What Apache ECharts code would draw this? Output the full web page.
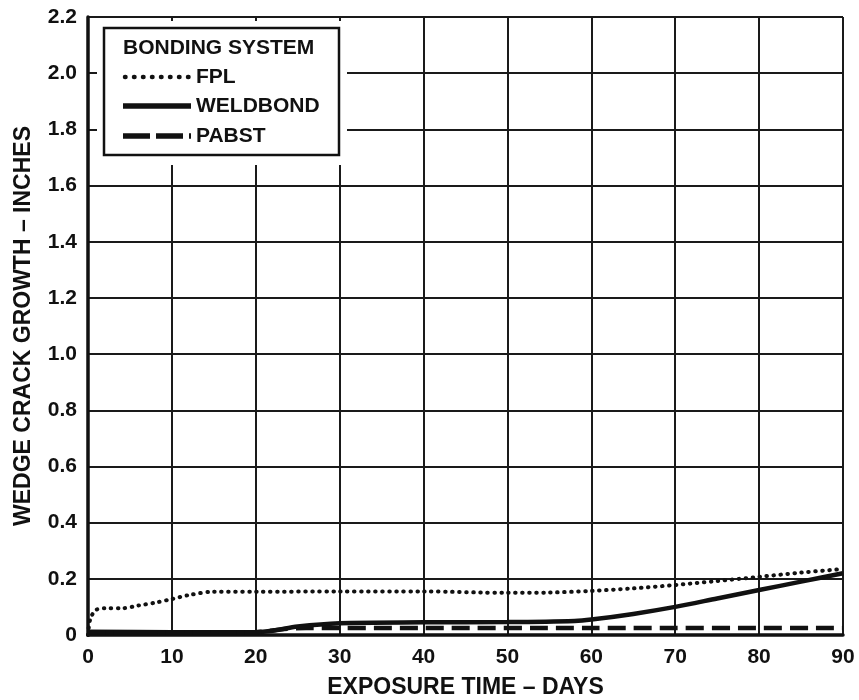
<!DOCTYPE html>
<html>
<head>
<meta charset="utf-8">
<script src="https://cdn.jsdelivr.net/npm/echarts@6/dist/echarts.min.js"></script>
<style>
html,body{margin:0;padding:0;background:#fff;}
#chart{width:859px;height:700px;}
</style>
</head>
<body>
<div id="chart"></div>
<script>
// Data
var fplDays   = [0, 0.3, 1, 2, 4, 6, 8, 10, 12, 15, 20, 30, 40, 50, 55, 60, 65, 70, 75, 80, 85, 90];
var fplValues = [0, 0.06, 0.09, 0.095, 0.095, 0.105, 0.115, 0.128, 0.142, 0.154, 0.154, 0.155, 0.155, 0.15, 0.151, 0.157, 0.166, 0.178, 0.192, 0.207, 0.222, 0.235];

var weldDays   = [0, 10, 20, 22, 25, 30, 40, 50, 58, 60, 65, 70, 75, 80, 85, 90];
var weldValues = [0.012, 0.01, 0.01, 0.015, 0.03, 0.042, 0.045, 0.046, 0.05, 0.055, 0.075, 0.1, 0.13, 0.16, 0.19, 0.22];

var pabstDays   = [0, 20, 23, 26, 40, 60, 90];
var pabstValues = [0.01, 0.01, 0.02, 0.025, 0.025, 0.025, 0.025];

var seriesNames = ['FPL', 'WELDBOND', 'PABST'];
var legendTitle = 'BONDING SYSTEM';
var xTitle = 'EXPOSURE TIME \u2013 DAYS';
var yTitle = 'WEDGE CRACK GROWTH \u2013 INCHES';

function pairs(xs, ys){ return xs.map(function(x,i){ return [x, ys[i]]; }); }

var FONT = '"Liberation Sans", Arial, Helvetica, sans-serif';
var INK = '#111';
var styles = [
  { color: INK, width: 4, type: [0.5, 6.5], cap: 'round' },
  { color: INK, width: 4.5, type: 'solid' },
  { color: INK, width: 4.5, type: [18, 8] }
];
var legendIconStyles = [
  { stroke: INK, lineWidth: 4.5, lineDash: [0.5, 8.5], lineCap: 'round' },
  { stroke: INK, lineWidth: 5.5 },
  { stroke: INK, lineWidth: 5.5, lineDash: [27, 6] }
];
var legendRowsY = [77, 106, 136];

var graphics = [
  { type: 'rect', shape: { x: 97, y: 21, width: 250, height: 144 },
    style: { fill: '#fff', stroke: null }, z: 50 },
  { type: 'rect', shape: { x: 104, y: 28, width: 235, height: 127 },
    style: { fill: '#fff', stroke: INK, lineWidth: 2.5 }, z: 51 },
  { type: 'text', x: 123, y: 48,
    style: { text: legendTitle, font: 'bold 21px ' + FONT, fill: INK, textVerticalAlign: 'middle', verticalAlign: 'middle' }, z: 52 }
];
seriesNames.forEach(function(n, i){
  var y = legendRowsY[i];
  var s = legendIconStyles[i];
  graphics.push({ type: 'line', shape: { x1: i === 0 ? 125 : 123, y1: y, x2: i === 0 ? 189 : 191, y2: y },
    style: s, z: 52 });
  graphics.push({ type: 'text', x: 196, y: y,
    style: { text: n, font: 'bold 21px ' + FONT, fill: INK, textVerticalAlign: 'middle', verticalAlign: 'middle' }, z: 52 });
});

var chart = echarts.init(document.getElementById('chart'));
chart.setOption({
  animation: false,
  backgroundColor: '#ffffff',
  textStyle: { fontFamily: FONT },
  grid: { left: 88, right: 16, top: 17, bottom: 65, containLabel: false, outerBoundsMode: 'none' },
  xAxis: {
    type: 'value', min: 0, max: 90, interval: 10,
    name: xTitle, nameLocation: 'middle', nameGap: 41,
    nameTextStyle: { fontSize: 23, fontWeight: 'bold', color: INK, fontFamily: FONT },
    axisLine: { show: true, lineStyle: { color: INK, width: 3.5 } },
    axisTick: { show: false },
    axisLabel: { fontSize: 21, fontWeight: 'bold', color: INK, margin: 12, fontFamily: FONT },
    splitLine: { show: true, lineStyle: { color: '#1a1a1a', width: 2 } }
  },
  yAxis: {
    type: 'value', min: 0, max: 2.2, interval: 0.2,
    name: yTitle, nameLocation: 'middle', nameGap: 53, nameRotate: 90,
    nameTextStyle: { fontSize: 23, fontWeight: 'bold', color: INK, fontFamily: FONT },
    axisLine: { show: true, lineStyle: { color: INK, width: 3.5 } },
    axisTick: { show: false },
    axisLabel: {
      fontSize: 21, fontWeight: 'bold', color: INK, margin: 11, fontFamily: FONT,
      formatter: function(v){ return v === 0 ? '0' : v.toFixed(1); }
    },
    splitLine: { show: true, lineStyle: { color: '#1a1a1a', width: 2 } }
  },
  graphic: graphics,
  series: [
    { name: seriesNames[0], type: 'line', data: pairs(fplDays, fplValues), symbol: 'none', smooth: 0.3,
      lineStyle: styles[0], z: 5 },
    { name: seriesNames[1], type: 'line', data: pairs(weldDays, weldValues), symbol: 'none', smooth: 0.3,
      lineStyle: styles[1], z: 4 },
    { name: seriesNames[2], type: 'line', data: pairs(pabstDays, pabstValues), symbol: 'none', smooth: 0.3,
      lineStyle: styles[2], z: 6 }
  ]
});
</script>
</body>
</html>
